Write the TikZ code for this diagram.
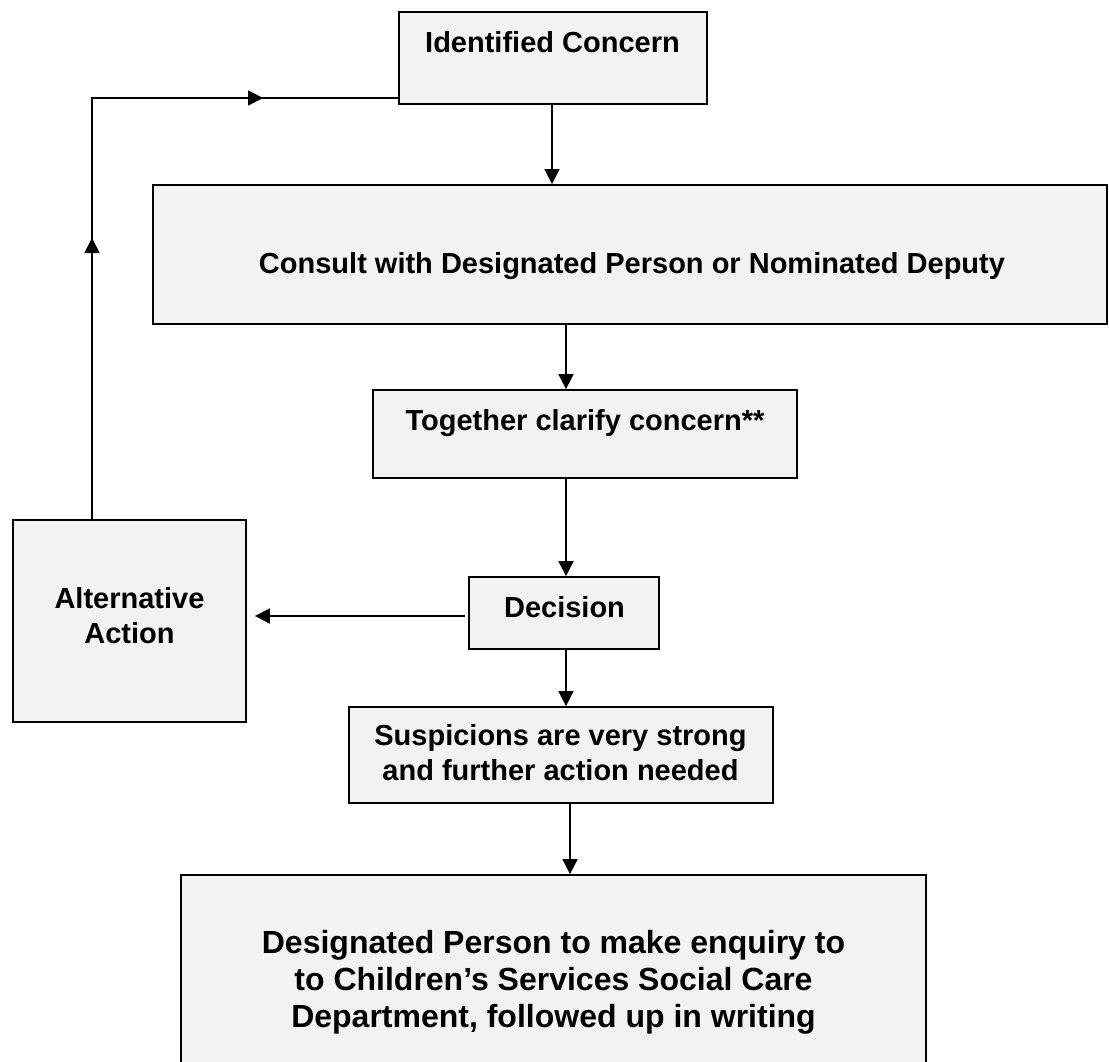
\documentclass[tikz,border=0pt]{standalone}
\usepackage{fontspec}
\setmainfont{Liberation Sans}
\usetikzlibrary{arrows.meta,calc}
\definecolor{boxgray}{HTML}{F2F2F2}
\begin{document}
\begin{tikzpicture}[x=1pt,y=-1pt,
  box/.style={draw=black, line width=1.8pt, fill=boxgray, inner sep=0pt},
  lbl/.style={font=\fontsize{29}{35}\selectfont\bfseries, align=center, anchor=base, inner sep=0pt},
  arr/.style={line width=1.8pt, -{Triangle[length=15pt,width=15pt]}},
  ln/.style={line width=1.8pt, line join=miter}]
\useasboundingbox (0,0) rectangle (1109,1061);
% boxes
\node[box, minimum width=308pt, minimum height=92pt] (ident) at (553,58) {};
\node[box, minimum width=954pt, minimum height=139pt] (consult) at (630,254.5) {};
\node[box, minimum width=424pt, minimum height=88pt] (together) at (585,434) {};
\node[box, minimum width=190pt, minimum height=72pt] (decision) at (564,613) {};
\node[box, minimum width=233pt, minimum height=202pt] (alt) at (129.5,621) {};
\node[box, minimum width=424pt, minimum height=96pt] (susp) at (561,755) {};
\node[box, minimum width=745pt, minimum height=192pt] (desig) at (553.5,971) {};
% texts
\node[lbl] (identT) at (552.5,52) {Identified Concern};
\node[lbl] (consultT) at (632,273) {Consult with Designated Person or Nominated Deputy};
\node[lbl] (togT) at (585,430) {Together clarify concern**};
\node[lbl] (decT) at (564.5,617) {Decision};
\node[lbl] (altT) at (129.5,643) {Alternative\\Action};
\node[lbl] (suspT) at (560.5,780) {Suspicions are very strong\\and further action needed};
\node[lbl, font=\fontsize{32}{37}\selectfont\bfseries] (desT) at (553.5,1027) {Designated Person to make enquiry to\\to Children’s Services Social Care\\Department, followed up in writing};
% connectors
\draw[arr] ([xshift=-1pt]ident.south) -- ([xshift=-1pt]ident.south |- consult.north);
\coordinate (c2) at ([xshift=-19pt]together.north);
\draw[arr] (c2 |- consult.south) -- (c2);
\draw[arr] ([xshift=2pt]decision.north |- together.south) -- ([xshift=2pt]decision.north);
\draw[arr] ([xshift=2pt]decision.south) -- ([xshift=2pt]decision.south |- susp.north);
\coordinate (c5) at ([xshift=9pt]susp.south);
\draw[arr] (c5) -- (c5 |- desig.north);
\coordinate (dL) at ([shift={(-3pt,-3pt)}]decision.west);
\coordinate (aR) at ([xshift=8pt]alt.east);
\draw[arr] (dL) -- (aR |- dL);
% feedback loop
\coordinate (fb0) at ([xshift=-37.5pt]alt.north);
\coordinate (fb1) at (92,238);
\coordinate (fb2) at (92,98);
\coordinate (fb3) at (263,98);
\coordinate (fb4) at (ident.west |- fb2);
\draw[ln] (fb0) -- (fb2) -- (fb4);
\draw[arr] (fb0) -- (fb1);
\draw[arr] (fb2) -- (fb3);
\end{tikzpicture}
\end{document}
